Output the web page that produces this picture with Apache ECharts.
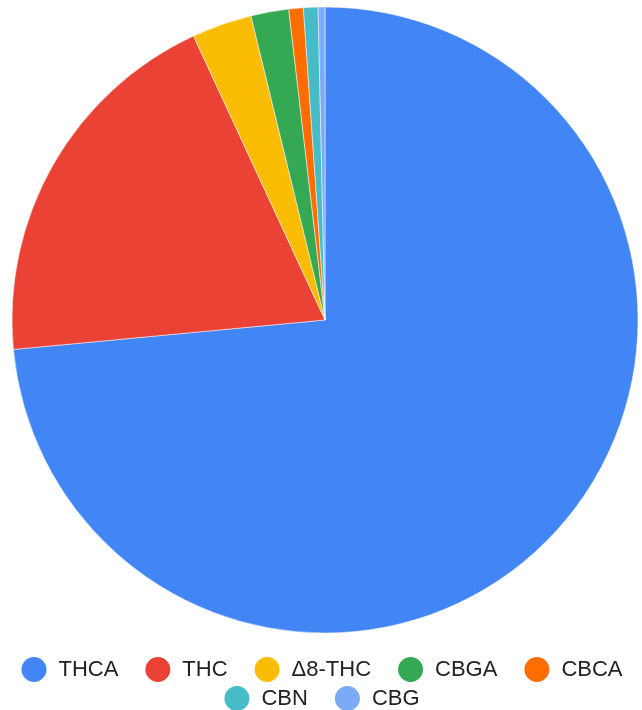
<!DOCTYPE html>
<html>
<head>
<meta charset="utf-8">
<script src="https://cdn.jsdelivr.net/npm/echarts@6/dist/echarts.min.js"></script>
<style>html,body{margin:0;padding:0;background:#fff;}#c{width:642px;height:710px;}</style>
</head>
<body>
<div id="c"></div>
<script>
const categories = ['THCA', 'THC', 'Δ8-THC', 'CBGA', 'CBCA', 'CBN', 'CBG'];
const values = [73.5, 19.6, 3.1, 1.95, 0.75, 0.75, 0.35];
const colors = ['#4285F4', '#EA4335', '#FBBC04', '#34A853', '#FF6D01', '#46BDC6', '#7BAAF7'];

const chart = echarts.init(document.getElementById('c'));
const legendText = { fontSize: 22, lineHeight: 22, color: '#222', fontFamily: 'Liberation Sans, Arial, sans-serif', padding: [0, 0, 0, 6] };
chart.setOption({
  animation: false,
  color: colors,
  legend: [
    { data: categories.slice(0, 5), left: 'center', top: 655, padding: 0, icon: 'circle', itemWidth: 27, itemHeight: 27, itemGap: 25, textStyle: legendText },
    { data: categories.slice(5), left: 'center', top: 684, padding: 0, icon: 'circle', itemWidth: 27, itemHeight: 27, itemGap: 25, textStyle: legendText }
  ],
  series: [{
    type: 'pie',
    center: [325, 320],
    radius: 313,
    startAngle: 90,
    clockwise: true,
    label: { show: false },
    labelLine: { show: false },
    itemStyle: { borderColor: '#fff', borderWidth: 0.5 },
    emphasis: { scale: false },
    data: categories.map((n, i) => ({ name: n, value: values[i] }))
  }]
});
</script>
</body>
</html>
